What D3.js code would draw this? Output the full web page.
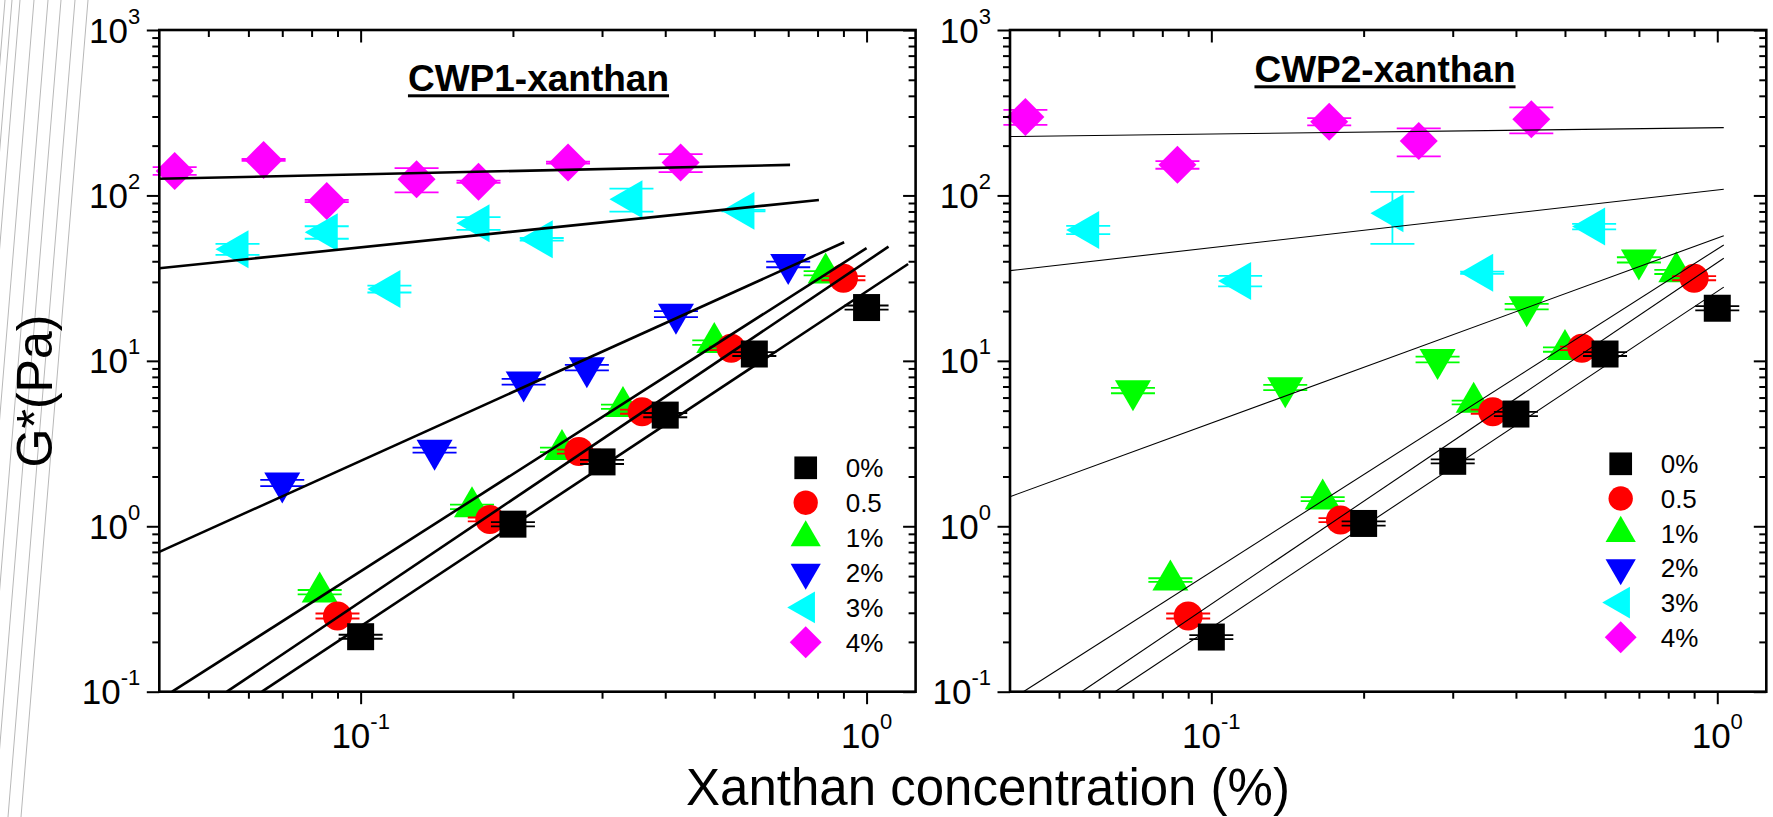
<!DOCTYPE html>
<html>
<head>
<meta charset="utf-8">
<script src="https://cdn.jsdelivr.net/npm/d3@7"></script>
<style>
  body { margin: 0; background: #fff; }
  svg { display: block; }
  text { font-family: "Liberation Sans", Arial, Helvetica, sans-serif; fill: #000; }
</style>
</head>
<body>
<svg id="chart" width="1773" height="817"></svg>
<script>
// ---------- data: CWP1-xanthan (left panel) ----------
const seriesLabels = ["0%", "0.5", "1%", "2%", "3%", "4%"];

const cwp1_x_0 = [0.1, 0.2, 0.3, 0.4, 0.6, 1.0];
const cwp1_g_0 = [0.215, 1.03, 2.45, 4.7, 11.0, 21.0];
const cwp1_e_0 = [0.006, 0.03, 0.07, 0.14, 0.3, 0.6];

const cwp1_x_05 = [0.09, 0.18, 0.27, 0.36, 0.54, 0.9];
const cwp1_g_05 = [0.287, 1.10, 2.83, 4.93, 11.9, 31.6];
const cwp1_e_05 = [0.01, 0.03, 0.08, 0.14, 0.3, 0.9];

const cwp1_x_1 = [0.083, 0.166, 0.25, 0.33, 0.5, 0.83];
const cwp1_g_1 = [0.40, 1.31, 2.9, 5.28, 12.9, 33.9];
const cwp1_e_1 = [0.012, 0.04, 0.09, 0.15, 0.4, 1.0];

const cwp1_x_2 = [0.07, 0.14, 0.21, 0.28, 0.42, 0.7];
const cwp1_g_2 = [1.83, 2.89, 7.48, 9.1, 19.2, 38.3];
const cwp1_e_2 = [0.08, 0.1, 0.3, 0.35, 0.8, 1.5];

const cwp1_x_3 = [0.0571, 0.0857, 0.114, 0.171, 0.228, 0.343, 0.571];
const cwp1_g_3 = [47.3, 59.9, 27.2, 67.9, 54.3, 94.8, 80.9];
const cwp1_e_3 = [3.6, 5.2, 1.3, 6.0, 1.0, 15.0, 0.8];

const cwp1_x_4 = [0.0429, 0.0643, 0.0857, 0.129, 0.171, 0.257, 0.429];
const cwp1_g_4 = [140.6, 164, 92.6, 125.3, 121, 158, 158];
const cwp1_e_4 = [7.5, 2.0, 1.5, 21, 2.0, 2.0, 19.5];

// power-law fits, stored as end points [x0, G0, x1, G1]
const cwp1_fits = [
  [0.0638, 0.1, 1.208, 38.5],
  [0.0544, 0.1, 1.105, 49],
  [0.0424, 0.1, 1.0, 48],
  [0.04, 0.70, 0.903, 52.1],
  [0.04, 36.3, 0.805, 93.9],
  [0.04, 126, 0.706, 153]
];

// ---------- data: CWP2-xanthan (right panel) ----------
const cwp2_x_0 = [0.1, 0.2, 0.3, 0.4, 0.6, 1.0];
const cwp2_g_0 = [0.214, 1.04, 2.47, 4.77, 11.0, 20.8];
const cwp2_e_0 = [0.006, 0.03, 0.07, 0.14, 0.3, 0.6];

const cwp2_x_05 = [0.09, 0.18, 0.36, 0.54, 0.9];
const cwp2_g_05 = [0.287, 1.09, 4.93, 11.9, 31.6];
const cwp2_e_05 = [0.01, 0.03, 0.14, 0.3, 0.9];

const cwp2_x_1 = [0.083, 0.166, 0.33, 0.5, 0.83];
const cwp2_g_1 = [0.473, 1.46, 5.6, 11.7, 34.5];
const cwp2_e_1 = [0.012, 0.04, 0.15, 0.35, 1.0];

const cwp2_x_2 = [0.07, 0.14, 0.28, 0.42, 0.7];
const cwp2_g_2 = [6.62, 6.9, 10.2, 21.3, 40.8];
const cwp2_e_2 = [0.25, 0.25, 0.4, 0.8, 1.5];

const cwp2_x_3 = [0.0571, 0.114, 0.228, 0.343, 0.571];
const cwp2_g_3 = [61.9, 30.4, 78, 34.1, 64.8];
const cwp2_e_3 = [3.5, 2.2, 27, 0.5, 2.5];

const cwp2_x_4 = [0.0429, 0.0857, 0.171, 0.257, 0.429];
const cwp2_g_4 = [298, 153, 279, 213, 289];
const cwp2_e_4 = [31, 8, 14, 41, 52];

const cwp2_fits = [
  [0.0645, 0.1, 1.03, 27.9],
  [0.0554, 0.1, 1.03, 41.7],
  [0.0425, 0.1, 1.03, 50.2],
  [0.04, 1.51, 1.03, 57.1],
  [0.04, 35.1, 1.03, 109],
  [0.04, 227, 1.03, 257]
];

// ---------- axes ----------
const xDomain = [0.04, 1.25];
const yDomain = [0.1, 1000];
const xMajor = [0.1, 1];
const xMinor = [0.05, 0.06, 0.07, 0.08, 0.09, 0.2, 0.3, 0.4, 0.5, 0.6, 0.7, 0.8, 0.9];
const yMajor = [0.1, 1, 10, 100, 1000];
const yMinor = [0.2, 0.3, 0.4, 0.5, 0.6, 0.7, 0.8, 0.9,
                2, 3, 4, 5, 6, 7, 8, 9,
                20, 30, 40, 50, 60, 70, 80, 90,
                200, 300, 400, 500, 600, 700, 800, 900];

// ---------- drawing ----------
const svg = d3.select("#chart");
svg.append("rect").attr("width", 1773).attr("height", 817).attr("fill", "#fff");

// faint rules along the left page edge
const edgeRuleTops = [5, 12, 20, 34, 48, 61, 75, 88];
svg.append("g").selectAll("line").data(edgeRuleTops).join("line")
  .attr("x1", d => d).attr("y1", 0)
  .attr("x2", d => d - 67).attr("y2", 817)
  .attr("stroke", "#b8b8b8").attr("stroke-width", 1);

const shapes = ["square", "circle", "up", "down", "left", "diamond"];
const legendColors = ["#000000", "#ff0000", "#00ff00", "#0000ff", "#00ffff", "#ff00ff"];

// marker outlines; triangles are anchored at their centroid
function markerPath(shape, k) {
  switch (shape) {
    case "square": { const w = 27 * k; return `M${-w/2},${-w/2}h${w}v${w}h${-w}Z`; }
    case "circle": { const r = 14.5 * k; return `M${r},0A${r},${r} 0 1,1 ${-r},0A${r},${r} 0 1,1 ${r},0Z`; }
    case "up": { const w = 36 * k, h = 31 * k; return `M0,${-2*h/3}L${w/2},${h/3}L${-w/2},${h/3}Z`; }
    case "down": { const w = 36 * k, h = 31 * k; return `M0,${2*h/3}L${w/2},${-h/3}L${-w/2},${-h/3}Z`; }
    case "left": { const w = 33 * k, h = 38 * k; return `M${-2*w/3},0L${w/3},${-h/2}L${w/3},${h/2}Z`; }
    case "diamond": { const d = 19 * k; return `M0,${-d}L${d},0L0,${d}L${-d},0Z`; }
  }
}

function powerLabel(g, x, y, exp, anchor) {
  const t = g.append("text").attr("x", x).attr("y", y)
    .attr("text-anchor", anchor).attr("font-size", 35);
  t.append("tspan").text("10");
  t.append("tspan").attr("dy", -19).attr("font-size", 22).text(exp);
}

const panels = [
  {
    left: 159.3, right: 915.6, title: "CWP1-xanthan", titleX: 538.5, titleY: 90.7,
    fitWidth: 2.6, legendX: 805.7, legendBase: 477.3, legendStep: 34.9,
    xs: [cwp1_x_0, cwp1_x_05, cwp1_x_1, cwp1_x_2, cwp1_x_3, cwp1_x_4],
    gs: [cwp1_g_0, cwp1_g_05, cwp1_g_1, cwp1_g_2, cwp1_g_3, cwp1_g_4],
    es: [cwp1_e_0, cwp1_e_05, cwp1_e_1, cwp1_e_2, cwp1_e_3, cwp1_e_4],
    colors: ["#000000", "#ff0000", "#00ff00", "#0000ff", "#00ffff", "#ff00ff"],
    fits: cwp1_fits
  },
  {
    left: 1010, right: 1766.3, title: "CWP2-xanthan", titleX: 1385, titleY: 81.7,
    fitWidth: 1.1, legendX: 1620.7, legendBase: 473.3, legendStep: 34.7,
    xs: [cwp2_x_0, cwp2_x_05, cwp2_x_1, cwp2_x_2, cwp2_x_3, cwp2_x_4],
    gs: [cwp2_g_0, cwp2_g_05, cwp2_g_1, cwp2_g_2, cwp2_g_3, cwp2_g_4],
    es: [cwp2_e_0, cwp2_e_05, cwp2_e_1, cwp2_e_2, cwp2_e_3, cwp2_e_4],
    colors: ["#000000", "#ff0000", "#00ff00", "#00ff00", "#00ffff", "#ff00ff"],
    fits: cwp2_fits
  }
];

const plotTop = 30, plotBottom = 691.7;

panels.forEach(p => {
  const x = d3.scaleLog().domain(xDomain).range([p.left, p.right]);
  const y = d3.scaleLog().domain(yDomain).range([plotBottom, plotTop]);
  const g = svg.append("g");

  // error bars + markers, highest concentration first so lower series sit on top
  for (let i = 5; i >= 0; i--) {
    const pts = p.xs[i].map((xv, j) => ({ x: xv, g: p.gs[i][j], e: p.es[i][j] }));
    const col = p.colors[i];
    const eg = g.append("g").attr("stroke", col).attr("stroke-width", 1.8).attr("fill", "none");
    pts.forEach(d => {
      const cx = x(d.x), yHi = y(d.g + d.e), yLo = y(d.g - d.e);
      eg.append("line").attr("x1", cx).attr("x2", cx).attr("y1", yHi).attr("y2", yLo);
      eg.append("line").attr("x1", cx - 22).attr("x2", cx + 22).attr("y1", yHi).attr("y2", yHi);
      eg.append("line").attr("x1", cx - 22).attr("x2", cx + 22).attr("y1", yLo).attr("y2", yLo);
    });
    g.append("g").selectAll("path").data(pts).join("path")
      .attr("d", markerPath(shapes[i], 1))
      .attr("transform", d => `translate(${x(d.x)},${y(d.g)})`)
      .attr("fill", col);
  }

  // fitted lines
  g.append("g").selectAll("line").data(p.fits).join("line")
    .attr("x1", d => x(d[0])).attr("y1", d => y(d[1]))
    .attr("x2", d => x(d[2])).attr("y2", d => y(d[3]))
    .attr("stroke", "#000").attr("stroke-width", p.fitWidth);

  // ticks: outward on bottom/left, inward on top/right
  const tickAxes = [
    [() => d3.axisBottom(x), `translate(0,${plotBottom})`, xMajor, xMinor],
    [() => d3.axisBottom(x), `translate(0,${plotTop})`, xMajor, xMinor],
    [() => d3.axisLeft(y), `translate(${p.left},0)`, yMajor, yMinor],
    [() => d3.axisLeft(y), `translate(${p.right},0)`, yMajor, yMinor]
  ];
  tickAxes.forEach(([mk, tr, major, minor]) => {
    [[major, 12.5], [minor, 7]].forEach(([vals, len]) => {
      const a = g.append("g").attr("transform", tr)
        .call(mk().tickValues(vals).tickSize(len).tickSizeOuter(0).tickFormat(""));
      a.select(".domain").remove();
      a.selectAll("line").attr("stroke", "#000").attr("stroke-width", 2);
    });
  });

  // frame
  g.append("rect")
    .attr("x", p.left).attr("y", plotTop)
    .attr("width", p.right - p.left).attr("height", plotBottom - plotTop)
    .attr("fill", "none").attr("stroke", "#000").attr("stroke-width", 2.6);

  // tick labels
  xMajor.forEach(v => powerLabel(g, x(v), 748.3, String(Math.round(Math.log10(v))), "middle"));
  yMajor.forEach(v => powerLabel(g, p.left - 19, y(v) + 12.5, String(Math.round(Math.log10(v))), "end"));

  // panel title, underlined
  const t = g.append("text").attr("x", p.titleX).attr("y", p.titleY)
    .attr("text-anchor", "middle").attr("font-size", 37).attr("font-weight", "bold")
    .text(p.title);
  const tw = t.node().getComputedTextLength();
  g.append("rect").attr("x", p.titleX - tw / 2).attr("y", p.titleY + 3.6)
    .attr("width", tw).attr("height", 3).attr("fill", "#000");

  // legend
  seriesLabels.forEach((lab, i) => {
    const base = p.legendBase + i * p.legendStep;
    const cy = base - 9.5;
    g.append("path").attr("d", markerPath(shapes[i], 0.84))
      .attr("transform", `translate(${p.legendX},${cy})`)
      .attr("fill", legendColors[i]);
    g.append("text").attr("x", p.legendX + 40).attr("y", base)
      .attr("font-size", 26).text(lab);
  });
});

// shared axis titles
svg.append("text").attr("x", 988).attr("y", 805)
  .attr("text-anchor", "middle").attr("font-size", 51)
  .text("Xanthan concentration (%)");
svg.append("text").attr("transform", "translate(52,391) rotate(-90)")
  .attr("text-anchor", "middle").attr("font-size", 50)
  .text("G*(Pa)");
</script>
</body>
</html>
